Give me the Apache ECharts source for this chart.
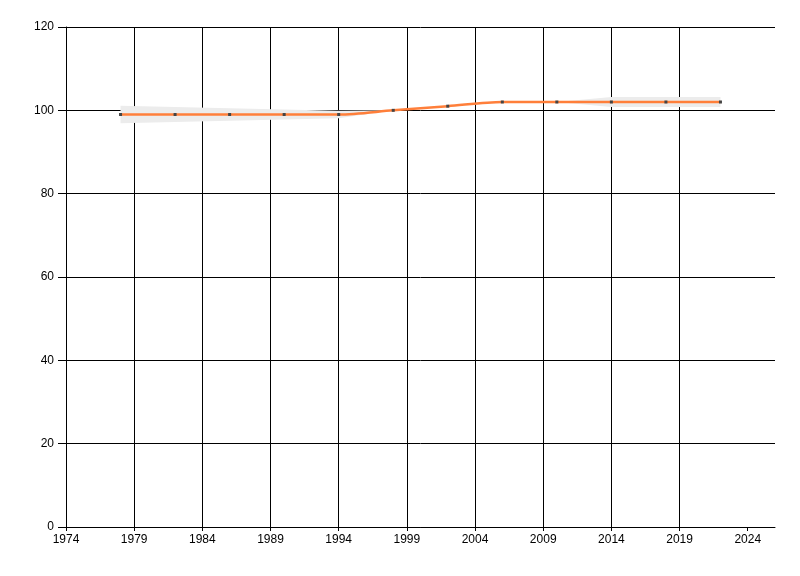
<!DOCTYPE html>
<html>
<head>
<meta charset="utf-8">
<script src="https://cdn.jsdelivr.net/npm/echarts@6/dist/echarts.min.js"></script>
<style>html,body{margin:0;padding:0;background:#fff;}#c{width:800px;height:576px;}</style>
</head>
<body>
<div id="c"></div>
<script>
const years = [1978, 1982, 1986, 1990, 1994, 1998, 2002, 2006, 2010, 2014, 2018, 2022];
const values = [99, 99, 99, 99, 99, 100, 101, 102, 102, 102, 102, 102];
const upper = [101.1, 100.8, 100.5, 100.2, 99.9, 100, 101, 102, 102, 103.2, 103.2, 103.2];
const lower = [96.9, 97.2, 97.5, 97.8, 98.1, 100, 101, 102, 102, 100.8, 100.8, 100.8];
const xTicks = [1974, 1979, 1984, 1989, 1994, 1999, 2004, 2009, 2014, 2019, 2024];

const chart = echarts.init(document.getElementById('c'), null, {renderer: 'canvas'});
const font = {fontFamily: 'Liberation Sans, Arial, sans-serif', fontSize: 12, color: '#000'};
chart.setOption({
  animation: false,
  grid: {left: 66, right: 25, top: 27, bottom: 49, containLabel: false},
  xAxis: {
    type: 'value', min: 1974, max: 2026, interval: 5,
    axisLine: {show: true, lineStyle: {color: '#000', width: 1}},
    axisTick: {show: true, length: 4, lineStyle: {color: '#000'}, customValues: xTicks},
    axisLabel: Object.assign({margin: 7, customValues: xTicks, formatter: v => String(v)}, font),
    splitLine: {show: true, showMinLine: false, showMaxLine: false, lineStyle: {color: '#000', width: 1}}
  },
  yAxis: {
    type: 'value', min: 0, max: 120, interval: 20,
    axisLine: {show: true, lineStyle: {color: '#000', width: 1}},
    axisTick: {show: true, length: 8, lineStyle: {color: '#000'}},
    axisLabel: Object.assign({margin: 12}, font),
    splitLine: {show: true, lineStyle: {color: '#000', width: 1}}
  },
  series: [
    {
      type: 'custom',
      silent: true,
      z: 3,
      data: years.map((y, i) => [y, lower[i], upper[i]]),
      renderItem: function (params, api) {
        if (params.dataIndex !== 0) return null;
        const pts = [];
        for (let i = 0; i < years.length; i++) pts.push(api.coord([years[i], upper[i]]));
        for (let i = years.length - 1; i >= 0; i--) pts.push(api.coord([years[i], lower[i]]));
        return {
          type: 'polygon',
          shape: {points: pts},
          style: {fill: '#ececec', stroke: null}
        };
      }
    },
    {
      type: 'line', data: years.map((y, i) => [y, values[i]]),
      smooth: 0.3,
      symbol: 'rect', symbolSize: 3,
      itemStyle: {color: '#444'},
      lineStyle: {color: '#ff7f3a', width: 2.5},
      z: 5
    }
  ]
});
</script>
</body>
</html>
